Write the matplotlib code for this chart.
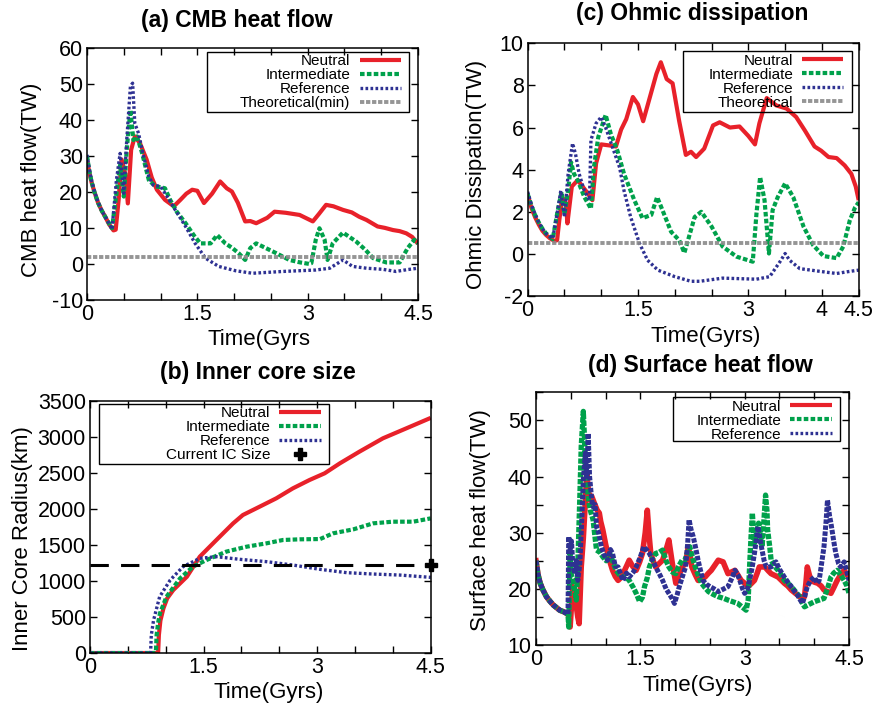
import numpy as np
import matplotlib
matplotlib.use('Agg')
import matplotlib.pyplot as plt
from matplotlib.lines import Line2D
from matplotlib.patches import Rectangle

plt.rcParams['font.family'] = ['Liberation Sans', 'DejaVu Sans']
plt.rcParams['axes.unicode_minus'] = False

# colours / styles used by the gnuplot original
RED = '#e8212a'
GREEN = '#00a14b'
BLUE = '#2e3192'
GRAY = '#8a8a8a'

# ---------------- (a) CMB heat flow (TW) ----------------
cmb_t_neutral = [0, 0.03, 0.06, 0.1, 0.15, 0.2, 0.25, 0.3, 0.36, 0.39, 0.43, 0.47, 0.52, 0.555, 0.6,
                 0.65, 0.72, 0.81, 0.88, 0.95, 1.06, 1.18, 1.27, 1.35, 1.43, 1.5, 1.59, 1.7, 1.81, 1.9,
                 1.97, 2.05, 2.15, 2.22, 2.3, 2.45, 2.55, 2.7, 2.89, 3.0, 3.07, 3.15, 3.25, 3.35, 3.48,
                 3.6, 3.7, 3.8, 3.95, 4.05, 4.16, 4.25, 4.34, 4.42, 4.5]
cmb_neutral = [29, 25.5, 22.8, 20, 17, 14.8, 13, 11, 9.3, 9.5, 17.8, 29, 25, 16.8, 31.7,
               35.4, 33.5, 29, 24, 20.6, 17.8, 16, 17.8, 19.5, 20.6, 20.3, 16.9, 19.5, 22.9, 21,
               20.1, 17, 11.8, 11.9, 11.3, 12.8, 14.5, 14.2, 13.6, 12.5, 11.8, 13.8, 16.4, 16, 15,
               14.3, 13.1, 12.2, 10.4, 10, 9.4, 9.1, 8.5, 7.5, 5.6]
cmb_t_inter = [0, 0.03, 0.06, 0.1, 0.15, 0.2, 0.25, 0.3, 0.34, 0.4, 0.45, 0.5, 0.54, 0.59, 0.63,
               0.68, 0.75, 0.84, 0.93, 1.0, 1.06, 1.13, 1.22, 1.34, 1.45, 1.54, 1.68, 1.77, 1.88, 1.97,
               2.06, 2.15, 2.22, 2.3, 2.45, 2.57, 2.75, 2.9, 3.02, 3.05, 3.11, 3.16, 3.23, 3.27, 3.34,
               3.48, 3.66, 3.78, 3.89, 4.07, 4.25, 4.36, 4.45, 4.5]
cmb_inter = [30, 26, 23, 20, 17, 14.8, 13, 11.2, 9.9, 19.6, 27.5, 18.7, 31.7, 42.8, 34.4,
             35.4, 30.7, 23.3, 21.5, 21.3, 21, 17.8, 14.5, 11.3, 8, 5.7, 5.7, 8, 5.7, 4.5,
             3, 1.1, 4.4, 5.7, 4.2, 3, 1.1, 0.4, 0, 0.2, 6.7, 9.9, 6.7, 1.1, 5.7,
             8.7, 6.2, 4, 1.6, 0.4, 0.4, 4.4, 6.7, 5.7]
cmb_t_ref = [0, 0.03, 0.06, 0.1, 0.15, 0.2, 0.25, 0.3, 0.34, 0.4, 0.45, 0.5, 0.54, 0.59, 0.62,
             0.65, 0.7, 0.77, 0.84, 0.9, 1.0, 1.09, 1.2, 1.34, 1.47, 1.61, 1.79, 2.02, 2.25, 2.66,
             3.11, 3.3, 3.48, 3.61, 3.8, 4.02, 4.2, 4.35, 4.5]
cmb_ref = [30.3, 26.5, 23.3, 20.3, 17.2, 14.8, 13, 11.2, 9.6, 23.3, 30.7, 19.6, 34.4, 49.3, 50.2,
           39, 36.3, 29.8, 24.3, 21.9, 21.5, 18.7, 15, 10.4, 5.7, 1.6, -0.7, -1.9, -2.6, -2.1,
           -1.7, -1.2, 1.1, -0.7, -1.2, -1.5, -2.1, -1.6, -1.2]
cmb_theoretical_min = 2.0

# ---------------- (c) Ohmic dissipation (TW) ----------------
ohm_t_neutral = [0, 0.05, 0.1, 0.15, 0.2, 0.25, 0.3, 0.36, 0.4, 0.43, 0.47, 0.52, 0.54, 0.6, 0.68,
                 0.79, 0.88, 0.93, 1.0, 1.11, 1.2, 1.27, 1.34, 1.43, 1.5, 1.57, 1.65, 1.75, 1.81, 1.89,
                 1.97, 2.06, 2.15, 2.22, 2.29, 2.4, 2.52, 2.61, 2.75, 2.88, 3.0, 3.09, 3.15, 3.25, 3.38,
                 3.52, 3.65, 3.77, 3.9, 3.99, 4.09, 4.2, 4.31, 4.4, 4.46, 4.5]
ohm_neutral = [2.8, 2.2, 1.75, 1.4, 1.1, 0.9, 0.75, 0.62, 0.65, 1.6, 2.7, 2.4, 1.45, 3.2, 3.5,
               3.0, 2.55, 4.3, 5.2, 5.15, 5.1, 5.9, 6.4, 7.45, 7.1, 6.3, 7.3, 8.55, 9.1, 8.3,
               8.1, 6.3, 4.7, 4.85, 4.6, 5.0, 6.1, 6.25, 6.0, 6.05, 5.6, 5.2, 6.2, 7.4, 7.05,
               6.9, 6.5, 5.85, 5.1, 4.9, 4.6, 4.55, 4.2, 3.8, 3.2, 2.55]
ohm_t_inter = [0, 0.05, 0.1, 0.15, 0.2, 0.25, 0.3, 0.34, 0.4, 0.46, 0.5, 0.55, 0.59, 0.63, 0.68,
               0.77, 0.86, 0.9, 0.96, 1.06, 1.13, 1.22, 1.31, 1.45, 1.56, 1.68, 1.76, 1.83, 1.95, 2.06,
               2.13, 2.18, 2.27, 2.36, 2.5, 2.65, 2.84, 3.06, 3.11, 3.16, 3.22, 3.28, 3.33, 3.4, 3.5,
               3.61, 3.75, 3.88, 4.02, 4.2, 4.29, 4.38, 4.45, 4.5]
ohm_inter = [2.85, 2.3, 1.85, 1.5, 1.2, 0.97, 0.83, 0.7, 1.9, 2.95, 1.9, 3.0, 4.35, 3.8, 3.5,
             2.7, 2.15, 4.1, 5.55, 6.6, 5.7, 4.9, 3.8, 2.55, 1.7, 1.85, 2.7, 2.1, 1.05, 0.65,
             0.05, 0.65, 1.75, 2.0, 1.3, 0.35, -0.13, -0.37, 1.9, 3.65, 2.55, 0.02, 2.08, 2.7, 3.35,
             2.7, 1.3, 0.42, -0.1, -0.2, 0.35, 1.6, 2.2, 2.45]
ohm_t_ref = [0, 0.05, 0.1, 0.15, 0.2, 0.25, 0.3, 0.34, 0.4, 0.45, 0.5, 0.55, 0.61, 0.65, 0.7,
             0.77, 0.84, 0.86, 0.93, 1.0, 1.06, 1.15, 1.25, 1.31, 1.4, 1.52, 1.63, 1.77, 2.0, 2.22,
             2.34, 2.65, 3.11, 3.29, 3.43, 3.5, 3.56, 3.7, 4.02, 4.2, 4.34, 4.5]
ohm_ref = [2.95, 2.35, 1.9, 1.5, 1.2, 0.97, 0.83, 0.73, 1.9, 3.0, 1.75, 3.8, 5.25, 4.75, 3.8,
           3.0, 2.55, 5.4, 6.2, 6.5, 6.0, 5.1, 4.1, 3.0, 1.75, 0.5, -0.3, -0.77, -1.08, -1.3,
           -1.3, -1.15, -1.2, -1.08, -0.37, 0.02, -0.3, -0.7, -0.85, -0.93, -0.85, -0.77]
ohm_theoretical = 0.5

# ---------------- (b) Inner core radius (km) ----------------
ic_t_neutral = [0, 0.9, 0.91, 0.93, 0.97, 1.02, 1.1, 1.28, 1.45, 1.67, 1.89, 2.02, 2.24, 2.46, 2.68,
                2.9, 3.1, 3.3, 3.56, 3.87, 4.18, 4.5]
ic_neutral = [0, 0, 250, 450, 620, 760, 875, 1060, 1338, 1570, 1800, 1917, 2032, 2148, 2287,
              2403, 2496, 2634, 2797, 2982, 3121, 3265]
ic_t_inter = [0, 0.87, 0.88, 0.9, 0.924, 1.01, 1.19, 1.36, 1.54, 1.8, 2.07, 2.33, 2.55, 2.77, 3.04,
              3.21, 3.48, 3.74, 4.0, 4.27, 4.5]
ic_inter = [0, 0, 250, 420, 551, 782, 1037, 1200, 1292, 1408, 1477, 1523, 1570, 1579, 1583,
            1662, 1718, 1801, 1824, 1824, 1870]
ic_t_ref = [0, 0.8, 0.81, 0.84, 0.92, 1.06, 1.23, 1.45, 1.67, 1.98, 2.33, 2.68, 3.04, 3.39, 3.74,
            4.09, 4.5]
ic_ref = [0, 0, 250, 458, 782, 1014, 1200, 1315, 1338, 1301, 1269, 1222, 1162, 1116, 1097,
          1083, 1051]
ic_current_t = 4.5
ic_current_size = 1221

# ---------------- (d) Surface heat flow (TW) ----------------
sf_t_start = [0, 0.03, 0.06, 0.1, 0.15, 0.2, 0.25, 0.3, 0.34, 0.4, 0.46]
sf_start = [25, 22.5, 21, 19.8, 18.6, 17.8, 17.1, 16.6, 16.2, 15.9, 15.5]

sf_t_ref = [0.47, 0.49, 0.51, 0.53, 0.56, 0.58, 0.6, 0.63, 0.66, 0.68, 0.71, 0.73, 0.75, 0.77, 0.8,
            0.82, 0.85, 0.87, 0.9, 0.94, 0.98, 1.03, 1.07, 1.1, 1.14, 1.18, 1.22, 1.25, 1.3, 1.34,
            1.4, 1.44, 1.5, 1.55, 1.6, 1.63, 1.68, 1.72, 1.78, 1.82, 1.87, 1.91, 1.96, 1.99, 2.03,
            2.06, 2.1, 2.15, 2.18, 2.2, 2.23, 2.26, 2.3, 2.33, 2.37, 2.4, 2.45, 2.5, 2.56, 2.62,
            2.7, 2.76, 2.82, 2.86, 2.9, 2.93, 2.97, 3.0, 3.04, 3.07, 3.11, 3.14, 3.17, 3.19, 3.22,
            3.24, 3.28, 3.31, 3.38, 3.45, 3.5, 3.57, 3.62, 3.67, 3.72, 3.76, 3.8, 3.83, 3.87, 3.9,
            3.95, 4.0, 4.04, 4.07, 4.1, 4.14, 4.17, 4.19, 4.22, 4.24, 4.28, 4.31, 4.35, 4.38, 4.43,
            4.47, 4.5]
sf_ref = [29.3, 27, 28.5, 24, 22.7, 25, 21.5, 24.5, 33, 39.4, 44.2, 40, 47.7, 40, 36,
          34.6, 35, 31, 30, 27.5, 26, 25.1, 27, 26.3, 24, 23.9, 22.5, 21.5, 22.8, 22.1,
          23, 23.9, 25.7, 27.5, 26.8, 26.3, 25, 23.9, 22.5, 21.5, 20, 19.2, 18.2, 17.4, 19,
          20.4, 22, 23.9, 28, 32.3, 30.5, 29.3, 27, 25.1, 23, 21.5, 20.8, 20.4, 20, 19.5,
          20, 20.4, 22, 23.3, 22.5, 21.5, 20, 19.2, 20, 21.5, 24, 26.3, 29, 31.1, 29,
          27.5, 25, 23.9, 23.9, 24.8, 23.5, 22.1, 21.2, 20.4, 19.5, 18.9, 18, 17.4, 19, 20.4,
          21.5, 22.1, 21, 21.5, 24, 27.5, 32, 35.8, 33, 31.7, 28.5, 26.3, 24.5, 23.9, 24.8,
          23, 21.5]
sf_t_inter = [0.47, 0.49, 0.51, 0.53, 0.56, 0.58, 0.6, 0.63, 0.65, 0.68, 0.7, 0.71, 0.73, 0.75, 0.78,
              0.82, 0.85, 0.87, 0.92, 0.96, 1.01, 1.06, 1.1, 1.15, 1.2, 1.25, 1.3, 1.34, 1.4, 1.44,
              1.49, 1.53, 1.56, 1.6, 1.63, 1.68, 1.72, 1.77, 1.82, 1.87, 1.91, 1.96, 2.01, 2.05, 2.1,
              2.14, 2.18, 2.21, 2.25, 2.29, 2.33, 2.38, 2.43, 2.48, 2.55, 2.62, 2.7, 2.76, 2.83, 2.9,
              2.96, 3.02, 3.05, 3.07, 3.09, 3.11, 3.13, 3.14, 3.17, 3.2, 3.23, 3.25, 3.27, 3.3, 3.32,
              3.33, 3.36, 3.38, 3.43, 3.48, 3.53, 3.57, 3.62, 3.67, 3.73, 3.79, 3.83, 3.86, 3.92, 4.0,
              4.07, 4.14, 4.19, 4.24, 4.28, 4.33, 4.38, 4.43, 4.47, 4.5]
sf_inter = [13.2, 26.3, 22, 21.5, 19.5, 18, 24, 36.4, 45.4, 51.6, 46, 42.4, 39, 36.4, 34,
            32.3, 29, 26.9, 26.5, 25.7, 25, 26.3, 25, 23.3, 22.5, 22.1, 22, 21.5, 20.2, 19.2,
            17.7, 18.5, 20.4, 22, 23.9, 25.5, 26.3, 26.5, 26.9, 25, 23.9, 23, 22.7, 24, 25.1,
            25.1, 26.5, 27.5, 25.5, 23.9, 22.5, 21, 20.2, 19.5, 19, 18.6, 18.3, 18, 17.7, 17.4,
            16.8, 16.2, 18, 23.9, 29, 33.5, 30, 28.1, 30, 31.7, 29.5, 27.5, 31, 36.7, 34,
            30.5, 27.5, 25.1, 24, 23.3, 22.4, 21.5, 21, 20.4, 19.5, 18.6, 17.5, 16.8, 17.2, 17.7,
            18, 18.3, 20, 22.1, 22.8, 23.3, 22.5, 21.5, 20.5, 19.2]
sf_t_neutral = [0.47, 0.49, 0.51, 0.53, 0.56, 0.58, 0.6, 0.62, 0.65, 0.68, 0.7, 0.73, 0.75, 0.77, 0.8,
                0.84, 0.88, 0.91, 0.93, 0.96, 1.0, 1.03, 1.07, 1.1, 1.14, 1.18, 1.22, 1.25, 1.3, 1.34,
                1.39, 1.44, 1.49, 1.53, 1.57, 1.6, 1.63, 1.65, 1.69, 1.72, 1.77, 1.82, 1.87, 1.91, 1.96,
                2.01, 2.06, 2.1, 2.15, 2.19, 2.22, 2.24, 2.29, 2.33, 2.38, 2.43, 2.48, 2.52, 2.57, 2.62,
                2.69, 2.76, 2.81, 2.86, 2.9, 2.95, 3.0, 3.05, 3.1, 3.14, 3.18, 3.21, 3.29, 3.34, 3.38,
                3.48, 3.57, 3.62, 3.67, 3.73, 3.79, 3.86, 3.88, 3.9, 3.95, 4.0, 4.05, 4.1, 4.14, 4.19,
                4.24, 4.28, 4.33, 4.38, 4.43, 4.47, 4.5]
sf_neutral = [15, 13.2, 17, 20.4, 18.5, 16.8, 15, 13.8, 23.9, 29, 33.5, 40.6, 38, 35.8, 36.5,
              35.2, 34, 33.5, 32, 30.5, 28, 26.3, 24.5, 23.3, 22.2, 21.5, 22, 22.7, 24, 25.1,
              24, 23.3, 24.8, 26.3, 30, 34, 29, 26.3, 24.8, 23.9, 24.5, 25.1, 27, 28.7, 24.5,
              21, 22.5, 23.9, 24.5, 27.5, 25.5, 23.9, 22.5, 21.5, 21.8, 22.1, 22.8, 23.3, 24.2, 25.1,
              24.8, 22.7, 23, 23.3, 22.5, 21.5, 21, 20.4, 21, 21.5, 22.8, 23.9, 23.9, 23.2, 22.7,
              22.1, 21, 20.5, 19.8, 19.2, 18.6, 18.6, 21, 23.9, 21.5, 21.2, 21, 20.5, 19.8, 19.5,
              19.2, 20.2, 21.5, 22.5, 23.3, 22.5, 22.1]

x_tick_pos = [0, 0.5, 1, 1.5, 2, 2.5, 3, 3.5, 4, 4.5]

fig = plt.figure(figsize=(8.78, 7.04), dpi=100)
ax_a = fig.add_axes([0.0991, 0.574, 0.377, 0.358])
ax_c = fig.add_axes([0.601, 0.5795, 0.377, 0.359])
ax_b = fig.add_axes([0.1025, 0.0724, 0.388, 0.358])
ax_d = fig.add_axes([0.6105, 0.0838, 0.3565, 0.359])

neutral_kw = dict(color=RED, lw=3.0, solid_capstyle='butt')
inter_kw = dict(color=GREEN, lw=3.0, linestyle=(0, (1.1, 0.55)))
ref_kw = dict(color=BLUE, lw=2.4, linestyle=(0, (0.8, 0.7)))
theo_kw = dict(color=GRAY, lw=2.8, linestyle=(0, (1.1, 0.45)), alpha=0.9)

TICK_FS = 15.5
LABEL_FS = 16
TITLE_FS = 16.5


def frame(ax, shown, ylim, yticks, yticklabels=None):
    ax.set_xlim(0, 4.5)
    ax.set_ylim(*ylim)
    ax.set_xticks(x_tick_pos)
    ax.set_xticklabels([('%g' % v) if v in shown else '' for v in x_tick_pos])
    ax.set_yticks(yticks)
    if yticklabels is not None:
        ax.set_yticklabels(yticklabels)
    ax.tick_params(direction='in', top=True, right=True, length=5, width=1,
                   labelsize=TICK_FS, pad=3)
    for s in ax.spines.values():
        s.set_linewidth(1.1)


def legend(ax, labels, styles, box):
    # box = (x0, x1, y_bottom, y_top) in axes fraction, drawn like gnuplot's key frame
    x0, x1, y0, y1 = box
    handles = [Line2D([], [], **st) for st in styles]
    w = ax.get_position().width * fig.get_figwidth() * fig.dpi
    lg = ax.legend(handles, labels, loc='upper right', bbox_to_anchor=(x1 - 6.0 / w, y1),
                   markerfirst=False, fontsize=11, frameon=False, borderaxespad=0,
                   handlelength=2.7, handletextpad=0.6, labelspacing=0.0,
                   borderpad=0.15)
    for t in lg.get_texts():
        t.set_ha('right')
    ax.add_patch(Rectangle((x0, y0), x1 - x0, y1 - y0, transform=ax.transAxes,
                           fill=False, edgecolor='black', lw=1.0, zorder=5))
    return lg


# (a)
ax_a.plot(cmb_t_neutral, cmb_neutral, **neutral_kw)
ax_a.plot(cmb_t_inter, cmb_inter, **inter_kw)
ax_a.plot(cmb_t_ref, cmb_ref, **ref_kw)
ax_a.axhline(cmb_theoretical_min, **theo_kw)
frame(ax_a, [0, 1.5, 3, 4.5], (-10, 60), np.arange(-10, 61, 10))
ax_a.set_title('(a) CMB heat flow', fontsize=TITLE_FS, fontweight='bold', x=0.453, y=1.075, va='center')
ax_a.set_ylabel('CMB heat flow(TW)', fontsize=LABEL_FS, va='center')
ax_a.yaxis.set_label_coords(-0.169, 0.476)
ax_a.set_xlabel('Time(Gyrs', fontsize=LABEL_FS, va='center')
ax_a.xaxis.set_label_coords(0.52, -0.159)
legend(ax_a, ['Neutral', 'Intermediate', 'Reference', 'Theoretical(min)'],
       [neutral_kw, inter_kw, ref_kw, theo_kw], (0.3625, 0.973, 0.746, 0.984))

# (c)
ax_c.plot(ohm_t_neutral, ohm_neutral, **neutral_kw)
ax_c.plot(ohm_t_inter, ohm_inter, **inter_kw)
ax_c.plot(ohm_t_ref, ohm_ref, **ref_kw)
ax_c.axhline(ohm_theoretical, **theo_kw)
frame(ax_c, [0, 1.5, 3, 4, 4.5], (-2, 10), np.arange(-2, 11, 2))
ax_c.set_title('(c) Ohmic dissipation', fontsize=TITLE_FS, fontweight='bold', x=0.498, y=1.083, va='center')
ax_c.set_ylabel('Ohmic Dissipation(TW)', fontsize=LABEL_FS, va='center')
ax_c.yaxis.set_label_coords(-0.154, 0.482)
ax_c.set_xlabel('Time(Gyrs)', fontsize=LABEL_FS, va='center')
ax_c.xaxis.set_label_coords(0.538, -0.162)
legend(ax_c, ['Neutral', 'Intermediate', 'Reference', 'Theoretical'],
       [neutral_kw, inter_kw, ref_kw, theo_kw], (0.468, 0.979, 0.727, 0.968))

# (b)
ax_b.plot(ic_t_neutral, ic_neutral, **neutral_kw)
ax_b.plot(ic_t_inter, ic_inter, **inter_kw)
ax_b.plot(ic_t_ref, ic_ref, **ref_kw)
ax_b.axhline(ic_current_size, color='black', lw=2.2, linestyle=(0, (6, 4)))
plus_kw = dict(marker='P', color='black', markersize=9, linestyle='none')
ax_b.plot([ic_current_t], [ic_current_size], clip_on=False, **plus_kw)
frame(ax_b, [0, 1.5, 3, 4.5], (0, 3500), np.arange(0, 3501, 500))
ax_b.set_title('(b) Inner core size', fontsize=TITLE_FS, fontweight='bold', x=0.492, y=1.079, va='center')
ax_b.set_ylabel('Inner Core Radius(km)', fontsize=LABEL_FS, va='center')
ax_b.yaxis.set_label_coords(-0.199, 0.456)
ax_b.set_xlabel('Time(Gyrs)', fontsize=LABEL_FS, va='center')
ax_b.xaxis.set_label_coords(0.525, -0.155)
legend(ax_b, ['Neutral', 'Intermediate', 'Reference', 'Current IC Size'],
       [neutral_kw, inter_kw, ref_kw, dict(marker='P', color='black', markersize=8, linestyle='none')],
       (0.026, 0.701, 0.75, 0.988))

# (d)
ax_d.plot(sf_t_start + sf_t_neutral, sf_start + sf_neutral, color=RED, lw=4.0)
ax_d.plot(sf_t_start + sf_t_inter, sf_start + sf_inter, color=GREEN, lw=3.8, linestyle=(0, (1.0, 0.3)))
ax_d.plot(sf_t_start + sf_t_ref, sf_start + sf_ref, color=BLUE, lw=3.6, linestyle=(0, (0.9, 0.3)))
frame(ax_d, [0, 1.5, 3, 4.5], (10, 55), np.arange(10, 56, 5),
      ['10', '', '20', '', '30', '', '40', '', '50', ''])
ax_d.set_title('(d) Surface heat flow', fontsize=TITLE_FS, fontweight='bold', x=0.524, y=1.071, va='center')
ax_d.set_ylabel('Surface heat flow(TW)', fontsize=LABEL_FS, va='center')
ax_d.yaxis.set_label_coords(-0.176, 0.494)
ax_d.set_xlabel('Time(Gyrs)', fontsize=LABEL_FS, va='center')
ax_d.xaxis.set_label_coords(0.518, -0.162)
legend(ax_d, ['Neutral', 'Intermediate', 'Reference'],
       [neutral_kw, inter_kw, ref_kw], (0.438, 0.971, 0.806, 0.980))

fig.savefig('out.png', dpi=100)
